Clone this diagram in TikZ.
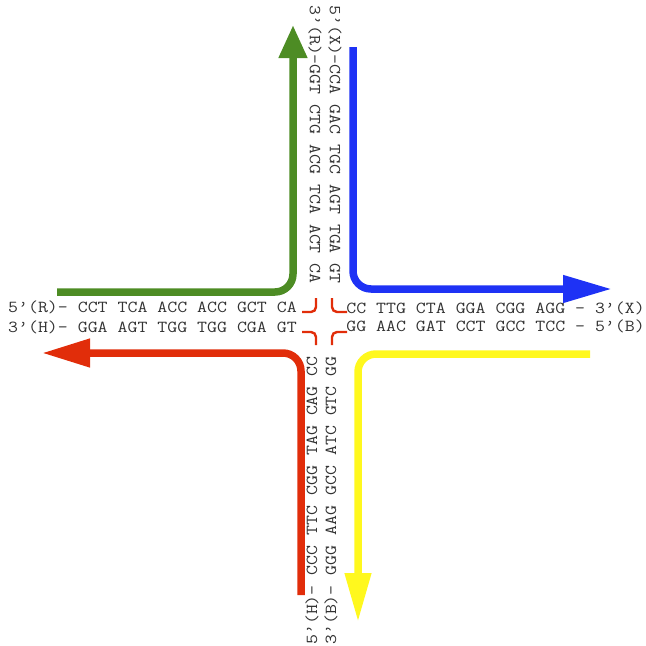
\documentclass[tikz,border=0pt]{standalone}
\usepackage{fontspec}
\setmonofont[FakeStretch=1.15]{Latin Modern Mono}
\usetikzlibrary{arrows.meta}
\definecolor{dnagreen}{RGB}{77,140,36}
\definecolor{dnablue}{RGB}{30,50,245}
\definecolor{dnared}{RGB}{225,45,10}
\definecolor{dnayellow}{RGB}{255,248,30}
\tikzset{
  seq/.style={inner sep=0pt, font=\fontsize{16.8}{18}\selectfont\ttfamily, text=black!80},
  strand/.style={line width=7.5pt, rounded corners=18pt},
  nick/.style={draw=dnared, line width=2.4pt, rounded corners=5pt},
}
\begin{document}
\begin{tikzpicture}[x=1pt,y=-1pt]
\useasboundingbox (0,0) rectangle (646,646);
% sequences
\node[seq, anchor=mid west] (lt) at (8,310) {5’(R)- CCT TCA ACC ACC GCT CA};
\node[seq, anchor=mid west] (lb) at (8,330) {3’(H)- GGA AGT TGG TGG CGA GT};
\node[seq, anchor=mid east] (rt) at (645,311) {CC TTG CTA GGA CGG AGG - 3’(X)};
\node[seq, anchor=mid east] (rb) at (645,329) {GG AAC GAT CCT GCC TCC - 5’(B)};
\node[seq, anchor=mid west, rotate=-90] (tl) at (312,5) {3’(R)-GGT CTG ACG TCA ACT CA};
\node[seq, anchor=mid west, rotate=-90] (tr) at (332,5) {5’(X)-CCA GAC TGC AGT TGA GT};
\node[seq, anchor=mid west, rotate=90] (bl) at (315,645) {5’(H)- CCC TTC CGG TAG CAG CC};
\node[seq, anchor=mid west, rotate=90] (br) at (334,645) {3’(B)- GGG AAG GCC ATC GTC GG};
% coordinates for the strands
\coordinate (g0) at (57,292);  \coordinate (g1) at (293,292); \coordinate (g2) at (293,25);
\coordinate (b0) at (353,47);  \coordinate (b1) at (353,289); \coordinate (b2) at (612,289);
\coordinate (r0) at (301,595); \coordinate (r1) at (301,353); \coordinate (r2) at (42,353);
\coordinate (y0) at (590,354); \coordinate (y1) at (358,354); \coordinate (y2) at (358,622);
\draw[strand, draw=dnagreen, -{Triangle[length=33pt,width=27pt]}] (g0) -- (g1) -- (g2);
\draw[strand, draw=dnablue, -{Triangle[length=49pt,width=26pt]}] (b0) -- (b1) -- (b2);
\draw[strand, draw=dnared, -{Triangle[length=48pt,width=27pt]}] (r0) -- (r1) -- (r2);
\draw[strand, draw=dnayellow, -{Triangle[length=49pt,width=25pt]}] (y0) -- (y1) -- (y2);
% nick brackets
\coordinate (n1a) at (302,312); \coordinate (n1b) at (316,312); \coordinate (n1c) at (316,298);
\coordinate (n2a) at (332,298); \coordinate (n2b) at (332,312); \coordinate (n2c) at (347,312);
\coordinate (n3a) at (302,332); \coordinate (n3b) at (316,332); \coordinate (n3c) at (316,345);
\coordinate (n4a) at (347,332); \coordinate (n4b) at (332,332); \coordinate (n4c) at (332,345);
\draw[nick] (n1a) -- (n1b) -- (n1c);
\draw[nick] (n2a) -- (n2b) -- (n2c);
\draw[nick] (n3a) -- (n3b) -- (n3c);
\draw[nick] (n4a) -- (n4b) -- (n4c);
\end{tikzpicture}
\end{document}
